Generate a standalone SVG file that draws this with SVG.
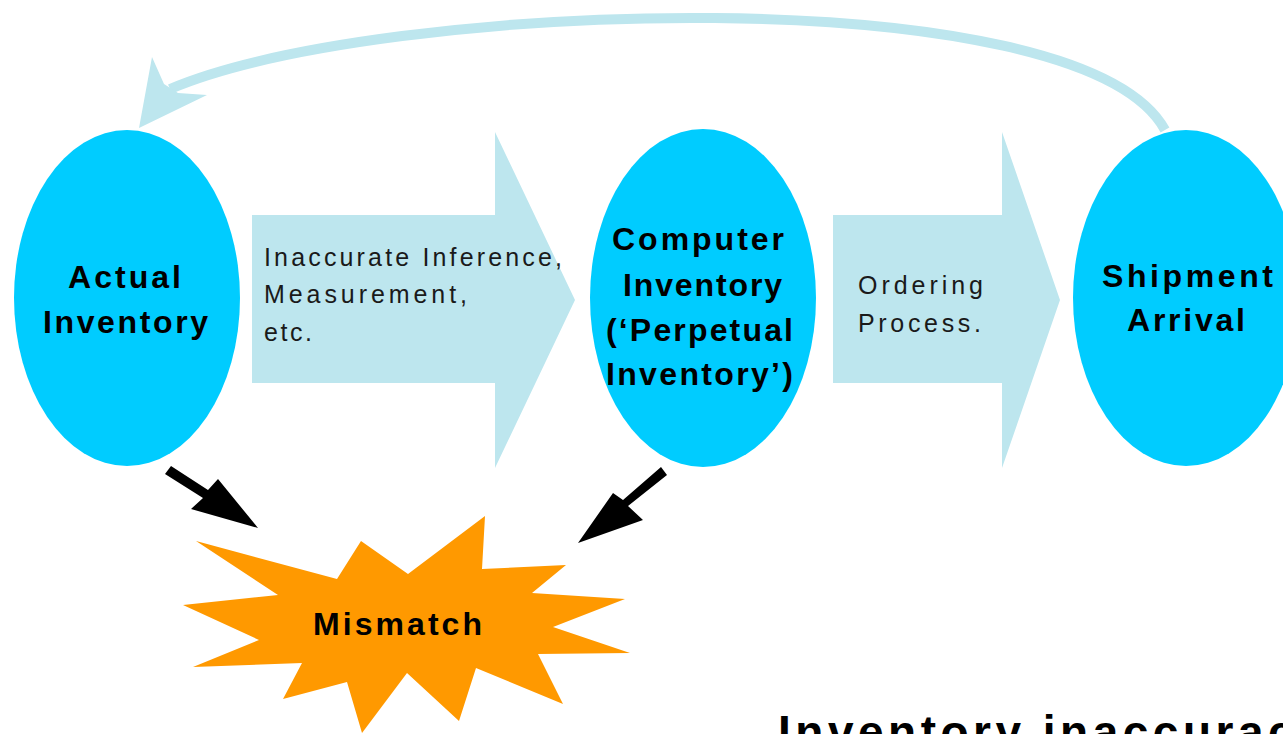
<svg xmlns="http://www.w3.org/2000/svg" width="1283" height="734" viewBox="0 0 1283 734">
<style>
.ell{fill:#00ccff}
.big{fill:#bde6ee}
.lb{font-family:"Liberation Sans",Arial,sans-serif;font-weight:bold;font-size:32px;fill:#000}
.lr{font-family:"Liberation Sans",Arial,sans-serif;font-size:25px;fill:#1a1a1a}
.blk{fill:#000}
</style>
<rect width="1283" height="734" fill="#fff"/>
<g id="connectors">
  <path d="M170,89 C380,0 1080,-25 1165,130" fill="none" stroke="#bde6ee" stroke-width="10"/>
  <polygon points="139,128 152,57 164,84 178,93 207,95" fill="#bde6ee"/>
  <polygon class="blk" points="171,466 208,490 218,479 258,528 191,509 203,498 165,474"/>
  <polygon class="blk" points="661,467 623,500 613,493 578,543 643,520 628,506 667,475"/>
</g>
<g id="arrow-inference">
  <polygon class="big" points="252,215 495,215 495,132 575,300 495,468 495,383 252,383"/>
  <text class="lr" x="264" y="266" textLength="298" lengthAdjust="spacing">Inaccurate Inference,</text>
  <text class="lr" x="264" y="303" textLength="203" lengthAdjust="spacing">Measurement,</text>
  <text class="lr" x="264" y="341" textLength="48" lengthAdjust="spacing">etc.</text>
</g>
<g id="arrow-ordering">
  <polygon class="big" points="833,215 1002,215 1002,132 1060,300 1002,468 1002,383 833,383"/>
  <text class="lr" x="858" y="294" textLength="125" lengthAdjust="spacing">Ordering</text>
  <text class="lr" x="858" y="332" textLength="123" lengthAdjust="spacing">Process.</text>
</g>
<g id="actual-inventory">
  <ellipse class="ell" cx="127" cy="298" rx="113" ry="168"/>
  <text class="lb" x="68" y="288" textLength="113" lengthAdjust="spacing">Actual</text>
  <text class="lb" x="43" y="333" textLength="165" lengthAdjust="spacing">Inventory</text>
</g>
<g id="computer-inventory">
  <ellipse class="ell" cx="703" cy="298" rx="113" ry="169"/>
  <text class="lb" x="612" y="250" textLength="172" lengthAdjust="spacing">Computer</text>
  <text class="lb" x="623" y="296" textLength="159" lengthAdjust="spacing">Inventory</text>
  <text class="lb" x="606" y="341" textLength="187" lengthAdjust="spacing">(‘Perpetual</text>
  <text class="lb" x="606" y="385" textLength="187" lengthAdjust="spacing">Inventory’)</text>
</g>
<g id="shipment-arrival">
  <ellipse class="ell" cx="1186" cy="298" rx="113" ry="168"/>
  <text class="lb" x="1102" y="287" textLength="171" lengthAdjust="spacing">Shipment</text>
  <text class="lb" x="1127" y="331" textLength="118" lengthAdjust="spacing">Arrival</text>
</g>
<g id="mismatch">
  <polygon fill="#ff9900" points="196,541 337,579 361,541 408,574 485,516 482,569 566,565 532,593 625,599 553,627 630,653 538,654 563,704 476,668 459,721 407,673 362,733 347,682 283,699 302,663 193,667 259,640 183,605 278,595"/>
  <text class="lb" x="313" y="635" textLength="169" lengthAdjust="spacing">Mismatch</text>
</g>
<g id="caption">
  <text x="778" y="748" font-family="Liberation Sans, Arial, sans-serif" font-weight="bold" font-size="46" letter-spacing="4.5" fill="#000">Inventory inaccuracy</text>
</g>
</svg>
